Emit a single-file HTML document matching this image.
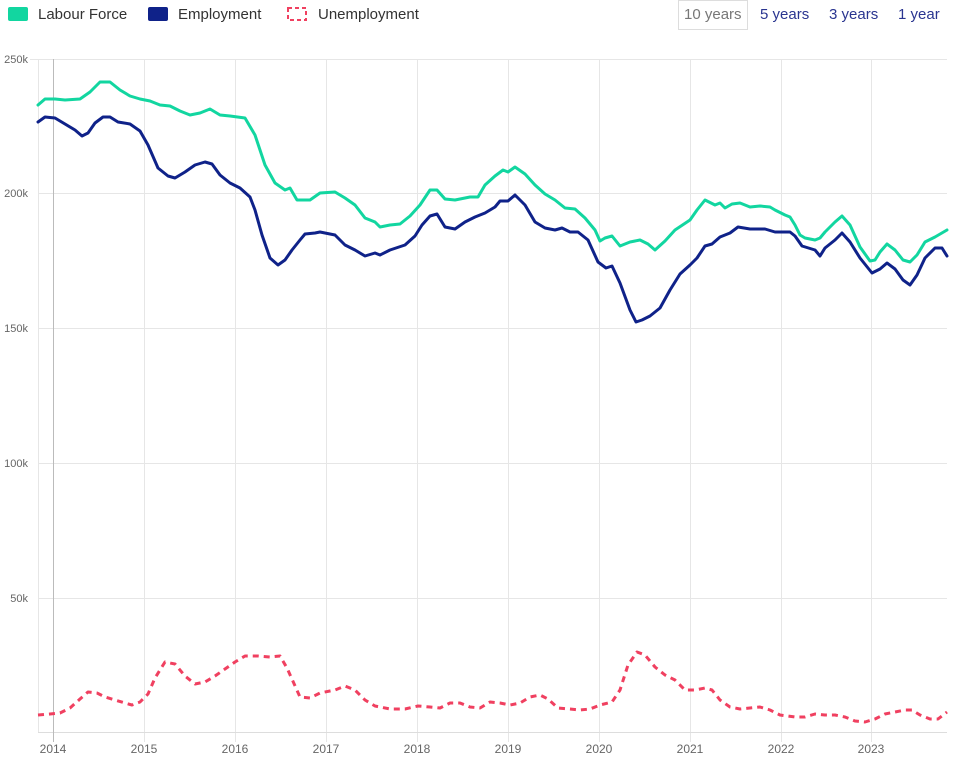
<!DOCTYPE html>
<html><head><meta charset="utf-8"><style>
body{margin:0;width:962px;height:763px;background:#fff;font-family:"Liberation Sans",sans-serif;overflow:hidden}
</style></head><body>
<svg width="962" height="763" xmlns="http://www.w3.org/2000/svg" style="position:absolute;left:0;top:0">
<g font-family="Liberation Sans, sans-serif">
<rect x="8" y="7" width="20" height="14" rx="2" fill="#12d6a0"/>
<text x="38" y="19" font-size="15" fill="#333">Labour Force</text>
<rect x="148" y="7" width="20" height="14" rx="2" fill="#0f2289"/>
<text x="178" y="19" font-size="15" fill="#333">Employment</text>
<rect x="288" y="8" width="18" height="12" fill="none" stroke="#f04060" stroke-width="2" stroke-dasharray="4 3"/>
<text x="318" y="19" font-size="15" fill="#333">Unemployment</text>
<rect x="678.5" y="0.5" width="69" height="29" fill="#fff" stroke="#ddd"/>
<text x="684" y="19" font-size="15" fill="#777">10 years</text>
<text x="760" y="19" font-size="15" fill="#2a3590">5 years</text>
<text x="829" y="19" font-size="15" fill="#2a3590">3 years</text>
<text x="898" y="19" font-size="15" fill="#2a3590">1 year</text>
</g>
<g stroke="#e6e6e6" stroke-width="1">
<line x1="30" y1="59.5" x2="947" y2="59.5"/>
<line x1="38" y1="193.5" x2="947" y2="193.5"/>
<line x1="38" y1="328.5" x2="947" y2="328.5"/>
<line x1="38" y1="463.5" x2="947" y2="463.5"/>
<line x1="38" y1="598.5" x2="947" y2="598.5"/>
<line x1="38.5" y1="59" x2="38.5" y2="733"/>
<line x1="144.5" y1="59" x2="144.5" y2="742"/>
<line x1="235.5" y1="59" x2="235.5" y2="742"/>
<line x1="326.5" y1="59" x2="326.5" y2="742"/>
<line x1="417.5" y1="59" x2="417.5" y2="742"/>
<line x1="508.5" y1="59" x2="508.5" y2="742"/>
<line x1="599.5" y1="59" x2="599.5" y2="742"/>
<line x1="690.5" y1="59" x2="690.5" y2="742"/>
<line x1="781.5" y1="59" x2="781.5" y2="742"/>
<line x1="871.5" y1="59" x2="871.5" y2="742"/>
<line x1="38" y1="732.5" x2="947" y2="732.5" stroke="#ddd"/>
</g>
<line x1="53.5" y1="59" x2="53.5" y2="742" stroke="#bbb"/>
<g font-size="11" fill="#666" text-anchor="end" font-family="Liberation Sans, sans-serif">
<text x="28" y="63">250k</text><text x="28" y="197">200k</text><text x="28" y="332">150k</text><text x="28" y="467">100k</text><text x="28" y="602">50k</text>
</g>
<g font-size="12" fill="#666" text-anchor="middle" font-family="Liberation Sans, sans-serif">
<text x="53" y="753">2014</text><text x="144" y="753">2015</text><text x="235" y="753">2016</text><text x="326" y="753">2017</text><text x="417" y="753">2018</text><text x="508" y="753">2019</text><text x="599" y="753">2020</text><text x="690" y="753">2021</text><text x="781" y="753">2022</text><text x="871" y="753">2023</text>
</g>
<g fill="none" stroke-width="3" stroke-linejoin="round" stroke-linecap="round">
<polyline stroke="#12d6a0" points="38,105 45,99 55,99 65,100 80,99 90,92 100,82 110,82 120,90 130,96 140,99 150,101 160,105 170,106 180,111 190,115 200,113 210,109 220,115 230,116 245,118 255,135 265,165 275,183 285,190 290,188 297,200 310,200 320,193 335,192 345,198 355,205 365,218 375,222 380,227 390,225 400,224 410,216 420,205 430,190 437,190 445,199 455,200 470,197 478,197 485,185 495,176 503,170 508,172 515,167 525,174 535,185 545,194 555,200 565,208 575,209 585,218 595,230 600,241 605,238 612,236 620,246 630,242 640,240 648,244 655,250 665,241 675,230 690,220 697,210 705,200 715,205 720,203 725,208 732,204 740,203 750,207 760,206 770,207 775,210 785,215 790,217 795,225 800,235 805,238 815,240 820,238 825,232 835,222 842,216 850,225 860,247 870,261 875,260 880,252 887,244 895,250 903,260 910,262 917,255 925,242 935,237 947,230"/>
<polyline stroke="#0f2289" points="38,122 45,117 55,118 65,124 75,130 82,136 88,133 95,123 103,117 110,117 118,122 130,124 140,131 148,145 158,168 168,176 175,178 185,172 195,165 205,162 212,164 220,175 230,183 240,188 250,197 255,210 262,235 270,258 278,265 285,260 292,250 300,240 305,234 315,233 320,232 335,235 345,245 355,250 365,256 375,253 380,255 390,250 405,245 415,236 422,225 430,216 437,214 445,227 455,229 465,222 475,217 485,213 495,207 500,201 508,201 515,195 525,205 535,222 545,228 555,230 562,228 570,232 578,232 588,240 598,262 606,268 612,266 620,283 630,310 636,322 642,320 650,316 660,308 670,290 680,274 690,265 697,258 705,246 712,244 720,237 730,233 738,227 750,229 765,229 775,232 790,232 795,236 802,246 815,250 820,256 825,248 835,240 842,233 850,242 860,258 872,273 880,269 887,263 895,269 903,280 910,285 917,275 925,258 935,248 942,248 947,256"/>
<polyline stroke="#f04060" stroke-dasharray="6 5" stroke-linecap="butt" points="38,715 50,714 60,713 70,708 80,699 88,692 97,693 105,697 115,700 125,703 132,705 140,702 148,694 155,678 165,662 175,664 185,676 195,684 205,682 215,676 225,669 235,662 245,656 258,656 270,657 280,656 287,668 300,697 310,698 320,693 335,690 345,686 355,690 365,700 375,706 390,709 405,709 418,706 430,707 440,708 450,703 460,703 470,707 480,708 490,702 500,703 510,705 520,703 530,697 540,695 548,699 558,708 570,709 580,710 590,709 600,705 612,702 620,690 628,665 637,652 645,655 655,667 665,675 675,680 685,690 695,690 705,688 712,690 720,700 730,707 740,709 750,708 760,707 770,710 780,715 795,717 805,717 815,714 825,715 835,715 845,717 855,721 865,722 875,719 885,714 895,712 905,710 912,710 920,715 930,719 938,719 947,712"/>
</g>
</svg>
</body></html>
